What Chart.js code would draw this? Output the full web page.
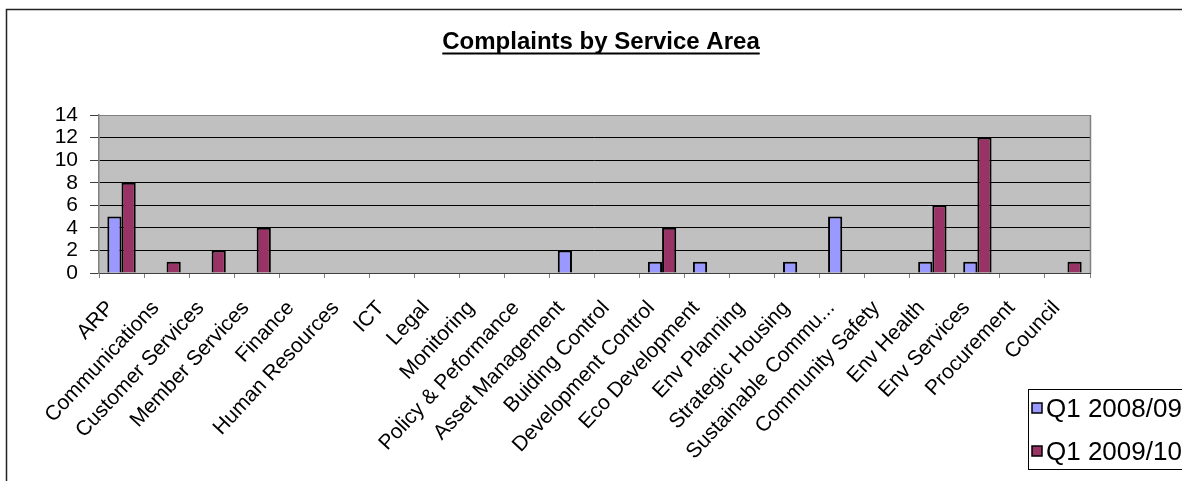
<!DOCTYPE html>
<html>
<head>
<meta charset="utf-8">
<title>Complaints by Service Area</title>
<script src="https://cdn.jsdelivr.net/npm/chart.js@4/dist/chart.umd.min.js"></script>
<style>
  html, body { margin: 0; padding: 0; background: #fff; overflow: hidden; }
  canvas { display: block; }
</style>
</head>
<body>
<canvas id="chart" width="1182" height="481"></canvas>
<script>
// Complaints received per service area, first quarter of each year
const chartTitle = 'Complaints by Service Area';

const serviceAreas = [
  'ARP', 'Communications', 'Customer Services', 'Member Services', 'Finance',
  'Human Resources', 'ICT', 'Legal', 'Monitoring', 'Policy & Peformance',
  'Asset Management', 'Buiding Control', 'Development Control', 'Eco Development',
  'Env Planning', 'Strategic Housing', 'Sustainable Commu...', 'Community Safety',
  'Env Health', 'Env Services', 'Procurement', 'Council'
];

const seriesLabels = ['Q1 2008/09', 'Q1 2009/10'];

const q1_2008_09 = [5, 0, 0, 0, 0, 0, 0, 0, 0, 0, 2, 0, 1, 1, 0, 1, 5, 0, 1, 1, 0, 0];
const q1_2009_10 = [8, 1, 2, 4, 0, 0, 0, 0, 0, 0, 0, 0, 4, 0, 0, 0, 0, 0, 6, 12, 0, 1];

const yTickValues = [0, 2, 4, 6, 8, 10, 12, 14];

const FONT = 'Arial, "Liberation Sans", sans-serif';

// Grey plot area, outer frame, underlined title and the legend box
const frameAndTitle = {
  id: 'frameAndTitle',
  beforeDraw(chart) {
    const { ctx, chartArea: a, width, height } = chart;
    ctx.save();
    ctx.fillStyle = '#ffffff';
    ctx.fillRect(0, 0, width, height);
    ctx.strokeStyle = '#222222';
    ctx.lineWidth = 1.5;
    ctx.strokeRect(6.5, 9.5, width + 40, height + 40);
    ctx.fillStyle = '#c0c0c0';
    ctx.fillRect(a.left, a.top, a.right - a.left, a.bottom - a.top);

    ctx.fillStyle = '#000000';
    ctx.font = 'bold 24px ' + FONT;
    ctx.textAlign = 'center';
    ctx.textBaseline = 'alphabetic';
    const cx = 601, by = 49;
    ctx.fillText(chartTitle, cx, by);
    const w = ctx.measureText(chartTitle).width;
    ctx.lineWidth = 2;
    ctx.strokeStyle = '#000000';
    ctx.beginPath();
    ctx.moveTo(cx - w / 2, 53.5);
    ctx.lineTo(cx + w / 2, 53.5);
    ctx.stroke();
    ctx.restore();
  },
  afterDraw(chart) {
    const { ctx, chartArea: a } = chart;
    ctx.save();
    // right edge of the plot area
    ctx.strokeStyle = '#808080';
    ctx.lineWidth = 1.5;
    ctx.beginPath();
    ctx.moveTo(a.right + 0.5, a.top);
    ctx.lineTo(a.right + 0.5, a.bottom);
    ctx.stroke();

    // legend box
    const lx = 1028, ly = 389;
    ctx.strokeStyle = '#000000';
    ctx.lineWidth = 1;
    ctx.strokeRect(lx + 0.5, ly + 0.5, 220, 80);
    ctx.font = '26px ' + FONT;
    ctx.textAlign = 'left';
    ctx.textBaseline = 'alphabetic';
    chart.data.datasets.forEach((ds, i) => {
      const cy = ly + 19 + i * 43;
      ctx.fillStyle = ds.backgroundColor;
      ctx.fillRect(lx + 4, cy - 5, 10, 10);
      ctx.strokeStyle = '#000000';
      ctx.lineWidth = 1.5;
      ctx.strokeRect(lx + 4, cy - 5, 10, 10);
      ctx.fillStyle = '#000000';
      ctx.fillText(ds.label, lx + 18, cy + 9);
    });
    ctx.restore();
  }
};

new Chart(document.getElementById('chart'), {
  type: 'bar',
  data: {
    labels: serviceAreas,
    datasets: [
      {
        label: seriesLabels[0],
        data: q1_2008_09,
        backgroundColor: '#9999ff',
        borderColor: '#000000',
        borderWidth: 2
      },
      {
        label: seriesLabels[1],
        data: q1_2009_10,
        backgroundColor: '#993366',
        borderColor: '#000000',
        borderWidth: 2
      }
    ]
  },
  options: {
    responsive: false,
    animation: false,
    devicePixelRatio: 1,
    layout: { padding: { top: 115, right: 92, bottom: 0, left: 0 } },
    datasets: {
      bar: { categoryPercentage: 0.63, barPercentage: 1.0 }
    },
    plugins: {
      legend: { display: false },
      title: { display: false },
      tooltip: { enabled: false }
    },
    scales: {
      x: {
        offset: true,
        grid: {
          offset: true,
          drawOnChartArea: false,
          drawTicks: true,
          tickLength: 5,
          tickColor: '#808080'
        },
        border: { display: true, color: '#404040', width: 1 },
        ticks: {
          autoSkip: false,
          maxRotation: 47,
          minRotation: 47,
          labelOffset: -11,
          padding: 18,
          color: '#000000',
          font: { family: FONT, size: 21 }
        },
        afterFit(scale) { scale.height = 208; }
      },
      y: {
        min: 0,
        max: 14,
        afterBuildTicks(scale) {
          scale.ticks = yTickValues.map(v => ({ value: v }));
        },
        grid: {
          color: (c) => (c.tick && c.tick.value === 14 ? '#808080' : '#000000'),
          lineWidth: 1,
          drawTicks: true,
          tickLength: 9,
          tickColor: '#404040'
        },
        border: { display: true, color: '#808080', width: 1.5 },
        ticks: {
          autoSkip: false,
          padding: 12,
          color: '#000000',
          font: { family: FONT, size: 21 }
        },
        afterFit(scale) { scale.width = 99; }
      }
    }
  },
  plugins: [frameAndTitle]
});
</script>
</body>
</html>
